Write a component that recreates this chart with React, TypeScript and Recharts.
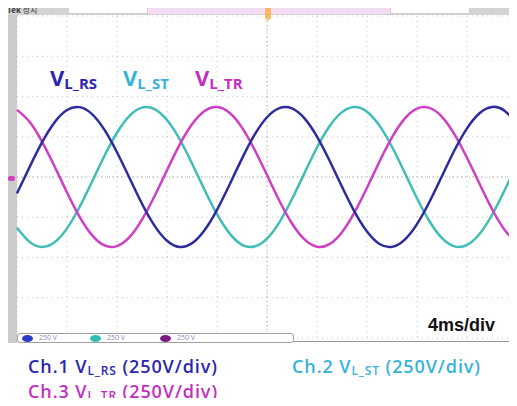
import React from "react";
import { LineChart, Line, XAxis, YAxis, CartesianGrid, ReferenceLine } from "recharts";

// time axis in ms (4 ms/div, 10 div)
const timeMs = [
  0, 1, 2, 3, 4, 5, 6, 7, 8, 9, 10, 11, 12, 13, 14, 15, 16, 17, 18, 19, 20,
  21, 22, 23, 24, 25, 26, 27, 28, 29, 30, 31, 32, 33, 34, 35, 36, 37, 38, 39, 40,
];

// line voltages (V, 250 V/div)
const vRS = [
  -102, 61, 215, 339, 416, 434, 391, 293, 154, -6, -166, -302, -396, -435, -412, -331, -204, -48, 114, 261, 371,
  428, 426, 364, 251, 102, -61, -215, -339, -416, -434, -391, -293, -154, 6, 166, 302, 396, 435, 412, 331,
];
const vST = [
  -315, -403, -435, -406, -319, -188, -30, 132, 275, 380, 431, 422, 354, 236, 84, -79, -231, -350, -421, -432, -383,
  -280, -137, 24, 183, 315, 403, 435, 406, 319, 188, 30, -132, -275, -380, -431, -422, -354, -236, -84, 79,
];
const vTR = [
  417, 343, 220, 67, -96, -246, -361, -425, -429, -374, -265, -120, 42, 199, 327, 410, 435, 399, 307, 171, 12,
  -149, -289, -388, -433, -417, -343, -220, -67, 96, 246, 361, 425, 429, 374, 265, 120, -42, -199, -327, -410,
];

const timeTicks = [0, 4, 8, 12, 16, 20, 24, 28, 32, 36, 40];
const voltTicks = [-1000, -750, -500, -250, 0, 250, 500, 750, 1000];

const data = timeMs.map((t, i) => ({ t, rs: vRS[i], st: vST[i], tr: vTR[i] }));

const BLUE = "#2d2b9e";
const CYAN = "#3fbdb6";
const MAGENTA = "#cf3fc6";
const LBL_BLUE = "#2b25b0";
const LBL_CYAN = "#37b3da";
const LBL_MAGENTA = "#c42ec0";

function VSym({ sub, color, size, subSize, shift }: { sub: string; color: string; size: number; subSize: number; shift: number }) {
  return (
    <span style={{ color }}>
      <span style={{ fontSize: size }}>V</span>
      <span style={{ fontSize: subSize, position: "relative", top: shift }}>{sub}</span>
    </span>
  );
}

const abs = (left: number, top: number): React.CSSProperties => ({ position: "absolute", left, top, whiteSpace: "nowrap", lineHeight: 1 });

export default function App() {
  return (
    <div style={{ position: "relative", margin: -8, width: 517, height: 406, background: "#fff", overflow: "hidden", fontFamily: "'Open Sans', sans-serif" }}>
      {/* scope status bar */}
      <div style={{ position: "absolute", left: 0, top: 5, width: 517, height: 10, background: "#d4d4d4" }} />
      <div style={{ position: "absolute", left: 68, top: 6, width: 80, height: 8, background: "#fff", border: "1px solid #d0d0d0", boxSizing: "border-box" }} />
      <div style={{ position: "absolute", left: 148, top: 6, width: 242, height: 8, background: "#f3dcf1" }} />
      <div style={{ position: "absolute", left: 390, top: 6, width: 80, height: 8, background: "#fff", border: "1px solid #d0d0d0", boxSizing: "border-box" }} />
      <div style={{ ...abs(7, 6), fontSize: 8, fontFamily: "'Noto Sans CJK KR', sans-serif", color: "#333" }}>
        <b>Tek</b> 정지
      </div>
      {/* left gray strip */}
      <div style={{ position: "absolute", left: 8, top: 15, width: 9, height: 328, background: "#cbcbcb" }} />

      <div style={{ position: "absolute", left: 0, top: 0 }}>
        <LineChart width={517} height={406} data={data} margin={{ top: 16, right: 0, left: 17, bottom: 68 }}>
          <CartesianGrid stroke="#c4c4c4" strokeDasharray="1 4" />
          <XAxis dataKey="t" type="number" domain={[0, 40]} ticks={timeTicks} hide />
          <YAxis type="number" domain={[-1000, 1000]} ticks={voltTicks} hide />
          <ReferenceLine y={0} stroke="#a8a8a8" strokeDasharray="1 3" />
          <ReferenceLine x={20} stroke="#a8a8a8" strokeDasharray="1 3" />
          <Line type="natural" dataKey="st" stroke={CYAN} strokeWidth={2.5} dot={false} isAnimationActive={false} />
          <Line type="natural" dataKey="tr" stroke={MAGENTA} strokeWidth={2.5} dot={false} isAnimationActive={false} />
          <Line type="natural" dataKey="rs" stroke={BLUE} strokeWidth={2.5} dot={false} isAnimationActive={false} />
        </LineChart>
      </div>

      {/* trigger marker */}
      <div style={{ position: "absolute", left: 265, top: 4, width: 6, height: 16, background: "#f6b24a", borderRadius: 3, opacity: 0.85 }} />
      {/* channel ground marker */}
      <div style={{ position: "absolute", left: 8, top: 176, width: 7, height: 5, background: "#d040c0", borderRadius: 2 }} />

      {/* channel readout bar */}
      <div style={{ position: "absolute", left: 17, top: 341, width: 500, height: 1, background: "#9a9a9a" }} />
      <div style={{ position: "absolute", left: 17, top: 333, width: 277, height: 10, background: "#fff", border: "1px solid #a0a0a0", borderRadius: 3, boxSizing: "border-box" }} />
      {[
        { x: 22, c: "#2b3bc8" },
        { x: 90, c: "#2fc0b0" },
        { x: 160, c: "#7a1a80" },
      ].map((m) => (
        <React.Fragment key={m.x}>
          <div style={{ position: "absolute", left: m.x, top: 335, width: 11, height: 7, borderRadius: "50%", background: m.c }} />
          <div style={{ ...abs(m.x + 17, 334), fontSize: 7, color: "#8a8ab8" }}>250 V</div>
        </React.Fragment>
      ))}

      <div style={{ ...abs(428, 316), fontSize: 18, fontWeight: 700, fontFamily: "'Liberation Sans', Arial, sans-serif", color: "#111" }}>4ms/div</div>

      {/* waveform labels */}
      <div style={{ ...abs(50, 66), fontWeight: 700 }}>
        <VSym sub="L_RS" color={LBL_BLUE} size={22} subSize={15} shift={3} />
      </div>
      <div style={{ ...abs(123, 66), fontWeight: 700 }}>
        <VSym sub="L_ST" color={LBL_CYAN} size={22} subSize={15} shift={3} />
      </div>
      <div style={{ ...abs(195, 66), fontWeight: 700 }}>
        <VSym sub="L_TR" color={LBL_MAGENTA} size={22} subSize={15} shift={3} />
      </div>

      {/* channel captions */}
      <div style={{ ...abs(28, 357), fontSize: 18, fontWeight: 600, letterSpacing: 0.9, color: LBL_BLUE }}>
        Ch.1 <VSym sub="L_RS" color={LBL_BLUE} size={18} subSize={12} shift={1.5} /> (250V/div)
      </div>
      <div style={{ ...abs(292, 357), fontSize: 18, fontWeight: 600, letterSpacing: 0.9, color: LBL_CYAN }}>
        Ch.2 <VSym sub="L_ST" color={LBL_CYAN} size={18} subSize={12} shift={1.5} /> (250V/div)
      </div>
      <div style={{ ...abs(28, 382), fontSize: 18, fontWeight: 600, letterSpacing: 0.9, color: LBL_MAGENTA }}>
        Ch.3 <VSym sub="L_TR" color={LBL_MAGENTA} size={18} subSize={12} shift={1.5} /> (250V/div)
      </div>
    </div>
  );
}
